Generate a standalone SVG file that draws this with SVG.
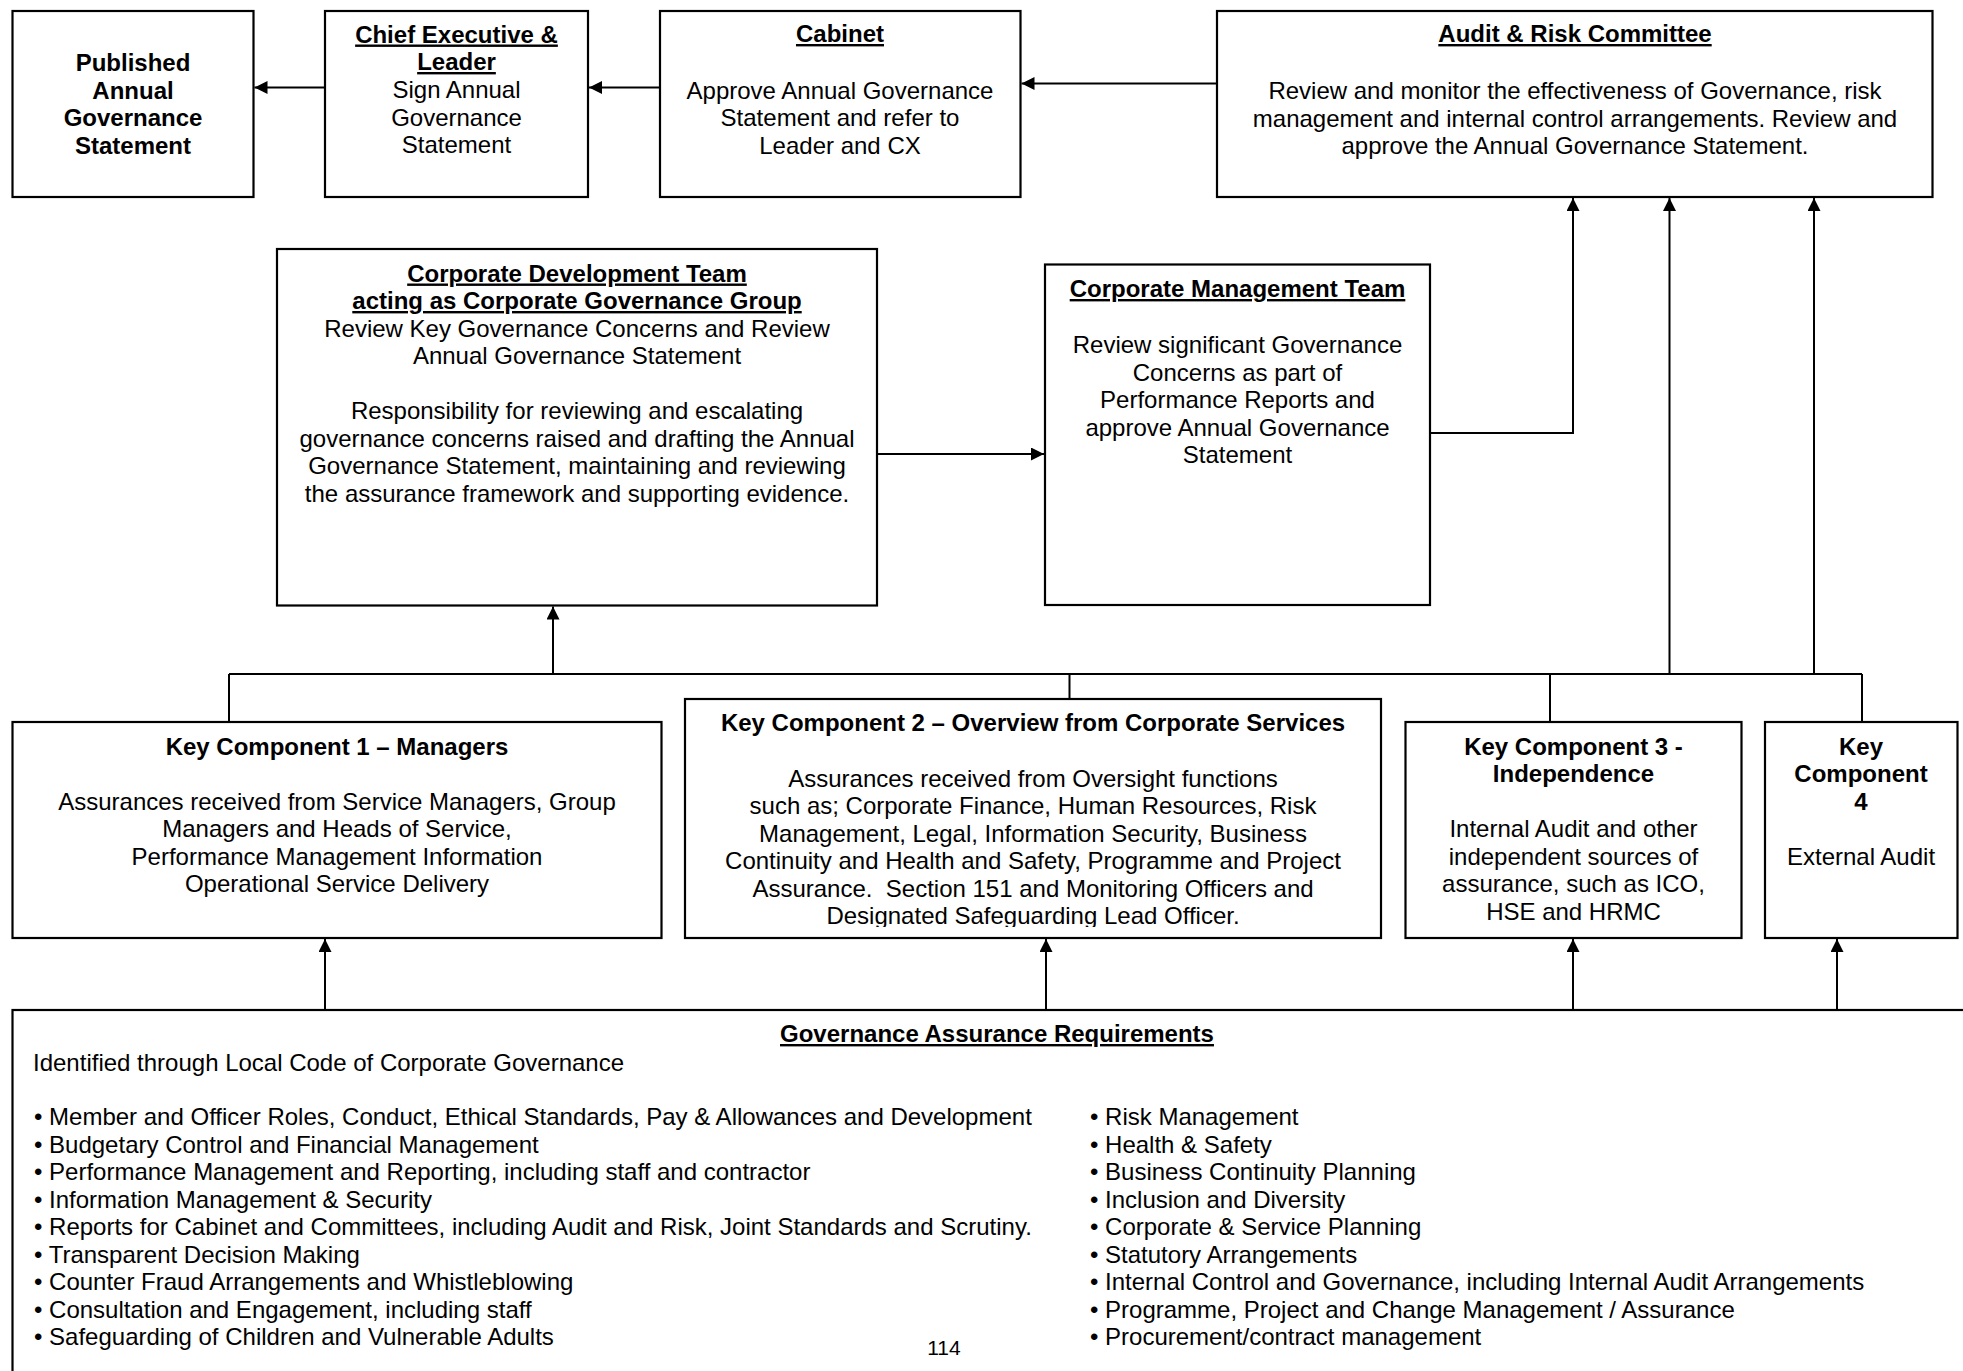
<svg xmlns="http://www.w3.org/2000/svg" width="1963" height="1371" viewBox="0 0 1963 1371">
<style>
.box{fill:#fff;stroke:#000;stroke-width:2.2}
.t{font-family:"Liberation Sans",Arial,sans-serif;font-size:24px;fill:#000;text-anchor:middle}
.b{font-weight:bold}
.u{text-decoration:underline}
.l{text-anchor:start}
.c{fill:none;stroke:#000;stroke-width:2}
</style>
<defs>
<marker id="ah" viewBox="0 0 10 10" refX="10" refY="5" markerWidth="17" markerHeight="13" markerUnits="userSpaceOnUse" orient="auto">
<path d="M0,0 L10,5 L0,10 Z" fill="#000"/>
</marker>
<clipPath id="kc2clip"><rect x="685" y="699" width="696" height="228"/></clipPath>
</defs>
<rect width="1963" height="1371" fill="#fff"/>

<g id="published">
<rect class="box" x="12.5" y="11" width="241" height="186"/>
<text class="t b" x="133" y="71">Published</text>
<text class="t b" x="133" y="98.5">Annual</text>
<text class="t b" x="133" y="126">Governance</text>
<text class="t b" x="133" y="153.5">Statement</text>
</g>

<g id="chief-executive">
<rect class="box" x="325" y="11" width="263" height="186"/>
<text class="t b u" x="456.5" y="42.5">Chief Executive &amp;</text>
<text class="t b u" x="456.5" y="70">Leader</text>
<text class="t" x="456.5" y="98">Sign Annual</text>
<text class="t" x="456.5" y="125.5">Governance</text>
<text class="t" x="456.5" y="153">Statement</text>
</g>

<g id="cabinet">
<rect class="box" x="660" y="11" width="360.5" height="186"/>
<text class="t b u" x="840" y="42">Cabinet</text>
<text class="t" x="840" y="98.5">Approve Annual Governance</text>
<text class="t" x="840" y="126">Statement and refer to</text>
<text class="t" x="840" y="153.5">Leader and CX</text>
</g>

<g id="audit-risk">
<rect class="box" x="1217" y="11" width="715.5" height="186"/>
<text class="t b u" x="1575" y="42">Audit &amp; Risk Committee</text>
<text class="t" x="1575" y="99">Review and monitor the effectiveness of Governance, risk</text>
<text class="t" x="1575" y="126.5">management and internal control arrangements. Review and</text>
<text class="t" x="1575" y="154">approve the Annual Governance Statement.</text>
</g>

<g id="cdt">
<rect class="box" x="277" y="249" width="600" height="356.5"/>
<text class="t b u" x="577" y="281.5">Corporate Development Team</text>
<text class="t b u" x="577" y="309">acting as Corporate Governance Group</text>
<text class="t" x="577" y="336.5">Review Key Governance Concerns and Review</text>
<text class="t" x="577" y="364">Annual Governance Statement</text>
<text class="t" x="577" y="419">Responsibility for reviewing and escalating</text>
<text class="t" x="577" y="446.5">governance concerns raised and drafting the Annual</text>
<text class="t" x="577" y="474">Governance Statement, maintaining and reviewing</text>
<text class="t" x="577" y="501.5">the assurance framework and supporting evidence.</text>
</g>

<g id="cmt">
<rect class="box" x="1045" y="264.5" width="385" height="340.5"/>
<text class="t b u" x="1237.5" y="297">Corporate Management Team</text>
<text class="t" x="1237.5" y="353">Review significant Governance</text>
<text class="t" x="1237.5" y="380.5">Concerns as part of</text>
<text class="t" x="1237.5" y="408">Performance Reports and</text>
<text class="t" x="1237.5" y="435.5">approve Annual Governance</text>
<text class="t" x="1237.5" y="463">Statement</text>
</g>

<g id="kc1">
<rect class="box" x="12.5" y="722" width="649" height="216"/>
<text class="t b" x="337" y="754.5">Key Component 1 – Managers</text>
<text class="t" x="337" y="809.5">Assurances received from Service Managers, Group</text>
<text class="t" x="337" y="837">Managers and Heads of Service,</text>
<text class="t" x="337" y="864.5">Performance Management Information</text>
<text class="t" x="337" y="892">Operational Service Delivery</text>
</g>

<g id="kc2">
<rect class="box" x="685" y="699" width="696" height="239"/>
<text class="t b" x="1033" y="731">Key Component 2 – Overview from Corporate Services</text>
<g clip-path="url(#kc2clip)">
<text class="t" x="1033" y="786.5">Assurances received from Oversight functions</text>
<text class="t" x="1033" y="814">such as; Corporate Finance, Human Resources, Risk</text>
<text class="t" x="1033" y="841.5">Management, Legal, Information Security, Business</text>
<text class="t" x="1033" y="869">Continuity and Health and Safety, Programme and Project</text>
<text class="t" x="1033" y="896.5">Assurance.&#160; Section 151 and Monitoring Officers and</text>
<text class="t" x="1033" y="924">Designated Safeguarding Lead Officer.</text>
</g>
</g>

<g id="kc3">
<rect class="box" x="1405.5" y="722" width="336" height="216"/>
<text class="t b" x="1573.5" y="754.5">Key Component 3 -</text>
<text class="t b" x="1573.5" y="782">Independence</text>
<text class="t" x="1573.5" y="837">Internal Audit and other</text>
<text class="t" x="1573.5" y="864.5">independent sources of</text>
<text class="t" x="1573.5" y="892">assurance, such as ICO,</text>
<text class="t" x="1573.5" y="919.5">HSE and HRMC</text>
</g>

<g id="kc4">
<rect class="box" x="1765" y="722" width="192.5" height="216"/>
<text class="t b" x="1861" y="754.5">Key</text>
<text class="t b" x="1861" y="782">Component</text>
<text class="t b" x="1861" y="809.5">4</text>
<text class="t" x="1861" y="864.5">External Audit</text>
</g>

<g id="requirements">
<rect class="box" x="12.5" y="1010" width="2000" height="500"/>
<text class="t b u" x="997" y="1042">Governance Assurance Requirements</text>
<text class="t l" x="33" y="1071">Identified through Local Code of Corporate Governance</text>
<text class="t l" x="34" y="1125">• Member and Officer Roles, Conduct, Ethical Standards, Pay &amp; Allowances and Development</text>
<text class="t l" x="34" y="1152.5">• Budgetary Control and Financial Management</text>
<text class="t l" x="34" y="1180">• Performance Management and Reporting, including staff and contractor</text>
<text class="t l" x="34" y="1207.5">• Information Management &amp; Security</text>
<text class="t l" x="34" y="1235">• Reports for Cabinet and Committees, including Audit and Risk, Joint Standards and Scrutiny.</text>
<text class="t l" x="34" y="1262.5">• Transparent Decision Making</text>
<text class="t l" x="34" y="1290">• Counter Fraud Arrangements and Whistleblowing</text>
<text class="t l" x="34" y="1317.5">• Consultation and Engagement, including staff</text>
<text class="t l" x="34" y="1345">• Safeguarding of Children and Vulnerable Adults</text>
<text class="t l" x="1090" y="1125">• Risk Management</text>
<text class="t l" x="1090" y="1152.5">• Health &amp; Safety</text>
<text class="t l" x="1090" y="1180">• Business Continuity Planning</text>
<text class="t l" x="1090" y="1207.5">• Inclusion and Diversity</text>
<text class="t l" x="1090" y="1235">• Corporate &amp; Service Planning</text>
<text class="t l" x="1090" y="1262.5">• Statutory Arrangements</text>
<text class="t l" x="1090" y="1290">• Internal Control and Governance, including Internal Audit Arrangements</text>
<text class="t l" x="1090" y="1317.5">• Programme, Project and Change Management / Assurance</text>
<text class="t l" x="1090" y="1345">• Procurement/contract management</text>
<text class="t" x="944" y="1355" style="font-size:21px">114</text>
</g>

<g id="connectors">
<path class="c" d="M325,87.5 H254.5" marker-end="url(#ah)"/>
<path class="c" d="M660,87.5 H589" marker-end="url(#ah)"/>
<path class="c" d="M1217,83.5 H1021.5" marker-end="url(#ah)"/>
<path class="c" d="M877,454 H1044" marker-end="url(#ah)"/>
<path class="c" d="M1430,433 H1573 V198" marker-end="url(#ah)"/>
<path class="c" d="M1669.5,674 V198" marker-end="url(#ah)"/>
<path class="c" d="M1814,674 V198" marker-end="url(#ah)"/>
<path class="c" d="M553,674 V606.5" marker-end="url(#ah)"/>
<path class="c" d="M229,674 H1862"/>
<path class="c" d="M229,674 V722"/>
<path class="c" d="M1069.5,674 V699"/>
<path class="c" d="M1550,674 V722"/>
<path class="c" d="M1862,674 V722"/>
<path class="c" d="M325,1010 V939" marker-end="url(#ah)"/>
<path class="c" d="M1046,1010 V939" marker-end="url(#ah)"/>
<path class="c" d="M1573,1010 V939" marker-end="url(#ah)"/>
<path class="c" d="M1837,1010 V939" marker-end="url(#ah)"/>
</g>
</svg>
